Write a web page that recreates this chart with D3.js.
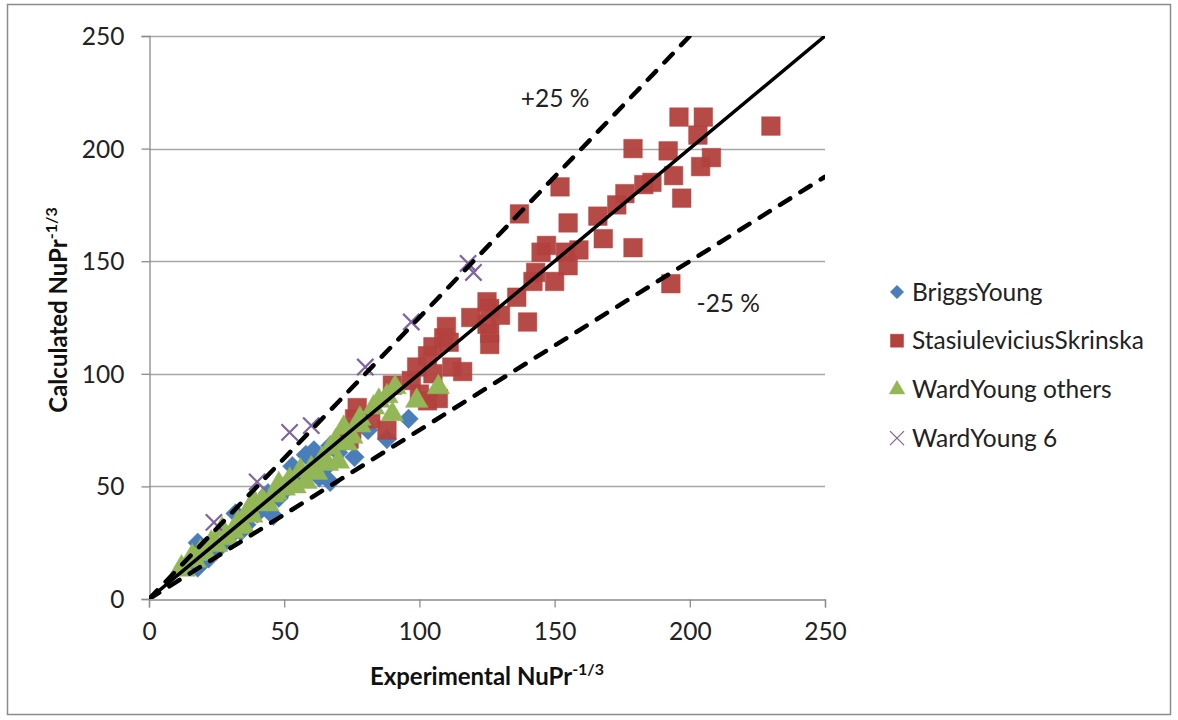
<!DOCTYPE html>
<html>
<head>
<meta charset="utf-8">
<script src="https://cdn.jsdelivr.net/npm/d3@7.9.0/dist/d3.min.js"></script>
<style>
  body { margin: 0; background: #fff; }
  svg { display: block; font-family: Lato, "Open Sans", sans-serif; }
</style>
</head>
<body>
<svg id="chart" width="1178" height="720"></svg>
<script>
// series names (legend order = drawing order)
const seriesNames = ["BriggsYoung", "StasiuleviciusSkrinska", "WardYoung others", "WardYoung 6"];
const seriesColors = ["#4a7ebb", "#b3413e", "#93b657", "#8064a2"];

const briggsYoung = [
  [15,16],[18,14],[18,25],[20,20],[22,18],[24,22],[27,24],[30,28],[32,38],[34,30],[36,33],
  [40,38],[42,41],[44,47],[46,37],[48,45],[50,48],[53,59],[55,52],[57,54],[58,64],
  [60,62],[61,66],[63,54],[65,58],[67,52],[67,68],[70,65],[76,63],[81,75],[88,71],[96,80]
];
const stasiulevicius = [
  [74,71],[75,75],[76,80],[77,85],[82,80],[88,75],[90,95],[97,97],[99,103],[100,91],
  [103,88],[103,108],[105,100],[105,112],[107,89],[109,116],[110,121],[111,114],[112,103],
  [116,101],[119,125],[125,122],[125,132],[126,129],[126,118],[126,113],[130,126],[136,134],
  [137,171],[140,123],[142,141],[143,145],[145,154],[147,157],[150,141],[152,183],[154,154],
  [155,148],[155,167],[159,155],[166,170],[168,160],[173,175],[176,180],[179,200],[179,156],
  [183,184],[186,185],[192,199],[193,140],[194,188],[196,214],[197,178],[203,206],[204,192],
  [205,214],[208,196],[230,210]
];
const wardYoungOthers = [
  [12,14],[13,13],[16,19],[17,17],[19,21],[21,20],[23,25],[25,24],[27,31],[29,27],[31,30],
  [33,34],[35,32],[37,40],[38,37],[39,43],[42,44],[44,42],[46,46],[47,47],[48,51],[50,49],
  [52,53],[54,50],[56,57],[58,52],[60,58],[62,56],[64,62],[66,60],[67,67],[69,70],[70,61],
  [72,76],[73,69],[75,72],[78,77],[78,80],[83,85],[85,88],[88,90],[90,82],[91,94],[99,88],[107,94]
];
const wardYoung6 = [
  [24,34],[40,52],[52,74],[60,77],[80,103],[97,123],[118,149],[120,145]
];
const seriesData = [briggsYoung, stasiulevicius, wardYoungOthers, wardYoung6];

const xTicks = [0, 50, 100, 150, 200, 250];
const yTicks = [0, 50, 100, 150, 200, 250];
const guideRatios = [1.25, 0.75];
const guideLabels = ["+25 %", "-25 %"];

const svg = d3.select("#chart");

// outer chart border
svg.append("rect")
  .attr("x", 7.5).attr("y", 4.5)
  .attr("width", 1163).attr("height", 710)
  .attr("fill", "none").attr("stroke", "#8c8c8c").attr("stroke-width", 1.5);

const x = d3.scaleLinear().domain([0, 250]).range([149, 825]);
const y = d3.scaleLinear().domain([0, 250]).range([599, 36]);

// horizontal gridlines
svg.append("g")
  .selectAll("line")
  .data(yTicks.filter(d => d > 0))
  .join("line")
  .attr("x1", x(0)).attr("x2", x(250))
  .attr("y1", d => Math.round(y(d)) + 0.5).attr("y2", d => Math.round(y(d)) + 0.5)
  .attr("stroke", "#a6a6a6").attr("stroke-width", 1.3);

// axes
const xAxis = svg.append("g")
  .attr("transform", `translate(0,${Math.round(y(0)) + 0.5})`)
  .call(d3.axisBottom(x).tickValues(xTicks).tickSize(8).tickPadding(15));
const yAxis = svg.append("g")
  .attr("transform", `translate(${Math.round(x(0)) + 0.5},0)`)
  .call(d3.axisLeft(y).tickValues(yTicks).tickSize(8).tickPadding(17));
[xAxis, yAxis].forEach(g => {
  g.select(".domain").attr("stroke", "#8c8c8c").attr("stroke-width", 1.3);
  g.selectAll(".tick line").attr("stroke", "#8c8c8c").attr("stroke-width", 1.3);
  g.selectAll(".tick text")
    .attr("fill", "#222").style("font-size", "24.5px")
    .style("font-family", "Lato, 'Open Sans', sans-serif");
});
yAxis.selectAll(".tick text").attr("dy", "0.35em");

// markers
const markerPath = [
  d3.symbol().type(d3.symbolSquare).size(190)(),   // diamond (rotated square)
  d3.symbol().type(d3.symbolSquare).size(345)(),
  d3.symbol().type(d3.symbolTriangle).size(220)(),
  d3.symbol().type(d3.symbolX).size(175)()
];
const markerRotate = [45, 0, 0, 0];

const plot = svg.append("g");
seriesData.forEach((data, i) => {
  plot.append("g")
    .selectAll("path")
    .data(data)
    .join("path")
    .attr("d", markerPath[i])
    .attr("transform", d => `translate(${x(d[0])},${y(d[1])}) rotate(${markerRotate[i]})`)
    .attr("fill", i === 3 ? "none" : seriesColors[i])
    .attr("stroke", seriesColors[i])
    .attr("stroke-width", i === 3 ? 2.2 : 0.5)
    .attr("opacity", i === 1 ? 0.95 : 1);
});

// reference lines, clipped to plot area
svg.append("clipPath").attr("id", "plotclip")
  .append("rect").attr("x", x(0)).attr("y", y(250))
  .attr("width", x(250) - x(0)).attr("height", y(0) - y(250));
const lines = svg.append("g").attr("clip-path", "url(#plotclip)");
lines.append("line")
  .attr("x1", x(0)).attr("y1", y(0)).attr("x2", x(250)).attr("y2", y(250))
  .attr("stroke", "#000").attr("stroke-width", 3.5);
guideRatios.forEach(r => {
  lines.append("line")
    .attr("x1", x(0)).attr("y1", y(0)).attr("x2", x(250)).attr("y2", y(250 * r))
    .attr("stroke", "#000").attr("stroke-width", 4.5)
    .attr("stroke-linecap", "round")
    .attr("stroke-dasharray", "12,12");
});

// guide labels
const guideLabelPos = [[137.5, 218.5], [202.5, 127.5]];
guideLabels.forEach((t, i) => {
  svg.append("text")
    .attr("x", x(guideLabelPos[i][0])).attr("y", y(guideLabelPos[i][1]))
    .attr("font-size", 24.5).attr("fill", "#222")
    .text(t);
});

// axis titles
const xTitle = svg.append("text")
  .attr("x", 487).attr("y", 685)
  .attr("text-anchor", "middle")
  .attr("font-size", 24).attr("font-weight", "bold").attr("fill", "#111");
xTitle.append("tspan").text("Experimental NuPr");
xTitle.append("tspan").attr("dy", -10).attr("font-size", 16).text("-1/3");

const yTitle = svg.append("text")
  .attr("transform", "translate(67,310) rotate(-90)")
  .attr("text-anchor", "middle")
  .attr("font-size", 24).attr("font-weight", "bold").attr("fill", "#111");
yTitle.append("tspan").text("Calculated NuPr");
yTitle.append("tspan").attr("dy", -10).attr("font-size", 16).text("-1/3");

// legend
const legendPath = [
  d3.symbol().type(d3.symbolSquare).size(90)(),
  d3.symbol().type(d3.symbolSquare).size(170)(),
  d3.symbol().type(d3.symbolTriangle).size(105)(),
  d3.symbol().type(d3.symbolX).size(130)()
];
const legend = svg.append("g").attr("transform", "translate(897,292)");
seriesNames.forEach((name, i) => {
  const row = legend.append("g").attr("transform", `translate(0,${i * 48.7})`);
  row.append("path")
    .attr("d", legendPath[i])
    .attr("transform", `rotate(${markerRotate[i]})`)
    .attr("fill", i === 3 ? "none" : seriesColors[i])
    .attr("stroke", seriesColors[i])
    .attr("stroke-width", i === 3 ? 1.3 : 0.5);
  row.append("text")
    .attr("x", 15).attr("dy", "0.35em")
    .attr("font-size", 24.5).attr("fill", "#222")
    .text(name);
});
</script>
</body>
</html>
